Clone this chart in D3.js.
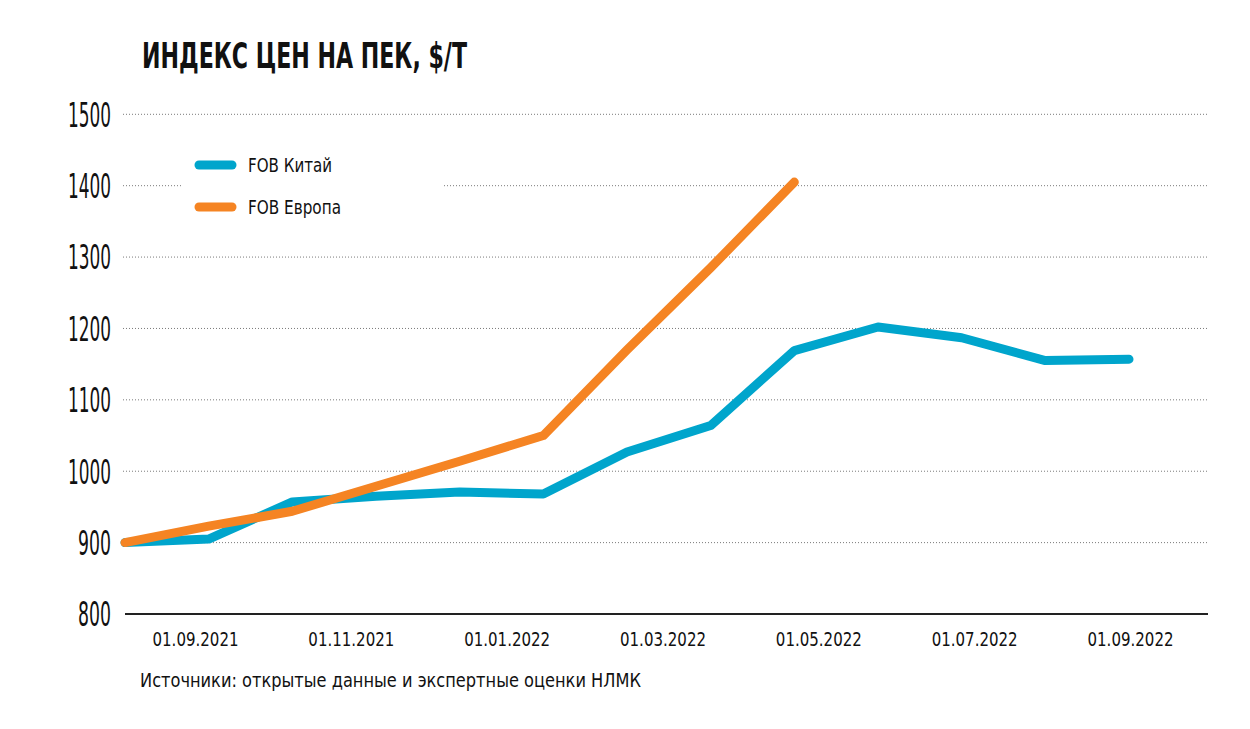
<!DOCTYPE html>
<html>
<head>
<meta charset="utf-8">
<script src="https://cdn.jsdelivr.net/npm/d3@7"></script>
<style>
  html, body { margin: 0; padding: 0; background: #fff; }
  svg { display: block; }
  text { font-family: "Liberation Sans Narrow", "DejaVu Sans Condensed", "Liberation Sans", sans-serif; fill: #111; }
</style>
</head>
<body>
<svg id="chart" width="1250" height="729"></svg>
<script>
// ---- data ----
const months = ["08.2021","09.2021","10.2021","11.2021","12.2021","01.2022","02.2022","03.2022","04.2022","05.2022","06.2022","07.2022","08.2022"];
const chinaValues  = [900, 905, 957, 965, 971, 968, 1027, 1064, 1169, 1202, 1187, 1155, 1157];
const europeValues = [900, 923, 944, 979, 1014, 1050, 1170, 1285, 1405];
const xTickLabels = ["01.09.2021","01.11.2021","01.01.2022","01.03.2022","01.05.2022","01.07.2022","01.09.2022"];
const yTicks = [800, 900, 1000, 1100, 1200, 1300, 1400, 1500];
const seriesNames = ["FOB Китай", "FOB Европа"];
const colors = ["#00a5cc", "#f58423"];
const titleText = "ИНДЕКС ЦЕН НА ПЕК, $/Т";
const sourceText = "Источники: открытые данные и экспертные оценки НЛМК";

const svg = d3.select("#chart");

const x = d3.scalePoint().domain(months).range([125, 1129]);
const xLabel = d3.scalePoint().domain(xTickLabels).range([195, 1130]);
const y = d3.scaleLinear().domain([800, 1500]).range([614, 114.3]);

// gridlines
svg.append("g").selectAll("line")
  .data(yTicks.filter(d => d > 800))
  .join("line")
  .attr("x1", 123).attr("x2", 1208)
  .attr("y1", d => y(d)).attr("y2", d => y(d))
  .attr("stroke", "#7a7a7a").attr("stroke-width", 1)
  .attr("stroke-dasharray", "1,2");

// baseline
svg.append("line")
  .attr("x1", 125).attr("x2", 1208)
  .attr("y1", y(800)).attr("y2", y(800))
  .attr("stroke", "#222").attr("stroke-width", 2);

// y axis labels
const yAxis = d3.axisLeft(y).tickValues(yTicks).tickFormat(d3.format("d")).tickSize(0).tickPadding(0);
const gy = svg.append("g").attr("transform", "translate(111,0)").call(yAxis);
gy.select(".domain").remove();
gy.selectAll("text")
  .attr("font-size", 33)
  .attr("font-family", "'Liberation Sans Narrow','DejaVu Sans Condensed',sans-serif")
  .attr("fill", "#111")
  .attr("dy", "0.36em")
  .attr("textLength", d => (String(d).length === 4 ? 43 : 33))
  .attr("lengthAdjust", "spacingAndGlyphs");

// x axis labels
const xAxis = d3.axisBottom(xLabel).tickSize(0).tickPadding(0);
const gx = svg.append("g").attr("transform", "translate(0,646)").call(xAxis);
gx.select(".domain").remove();
gx.selectAll("text")
  .attr("font-size", 19)
  .attr("font-family", "'Liberation Sans Narrow','DejaVu Sans Condensed',sans-serif")
  .attr("fill", "#111")
  .attr("dy", 0)
  .attr("textLength", 86)
  .attr("lengthAdjust", "spacingAndGlyphs");

// legend background
svg.append("rect").attr("x", 183).attr("y", 135).attr("width", 260).attr("height", 95).attr("fill", "#fff");

// lines
const line = d3.line().x((d, i) => x(months[i])).y(d => y(d));
[chinaValues, europeValues].forEach((vals, k) => {
  svg.append("path")
    .datum(vals)
    .attr("d", line)
    .attr("fill", "none")
    .attr("stroke", colors[k])
    .attr("stroke-width", 9)
    .attr("stroke-linecap", "round")
    .attr("stroke-linejoin", "round");
});

// legend
const legendY = [165, 207];
const legendW = [84, 93];
seriesNames.forEach((name, k) => {
  svg.append("line")
    .attr("x1", 199).attr("x2", 232)
    .attr("y1", legendY[k]).attr("y2", legendY[k])
    .attr("stroke", colors[k]).attr("stroke-width", 9)
    .attr("stroke-linecap", "round");
  svg.append("text")
    .attr("x", 248).attr("y", legendY[k] + 7)
    .attr("font-size", 19)
    .attr("textLength", legendW[k])
    .attr("lengthAdjust", "spacingAndGlyphs")
    .text(name);
});

// title
svg.append("text")
  .attr("x", 142).attr("y", 68)
  .attr("font-size", 36)
  .attr("font-weight", "bold")
  .attr("textLength", 325)
  .attr("lengthAdjust", "spacingAndGlyphs")
  .text(titleText);

// source
svg.append("text")
  .attr("x", 140).attr("y", 687)
  .attr("font-size", 19)
  .attr("textLength", 501)
  .attr("lengthAdjust", "spacingAndGlyphs")
  .text(sourceText);
</script>
</body>
</html>
